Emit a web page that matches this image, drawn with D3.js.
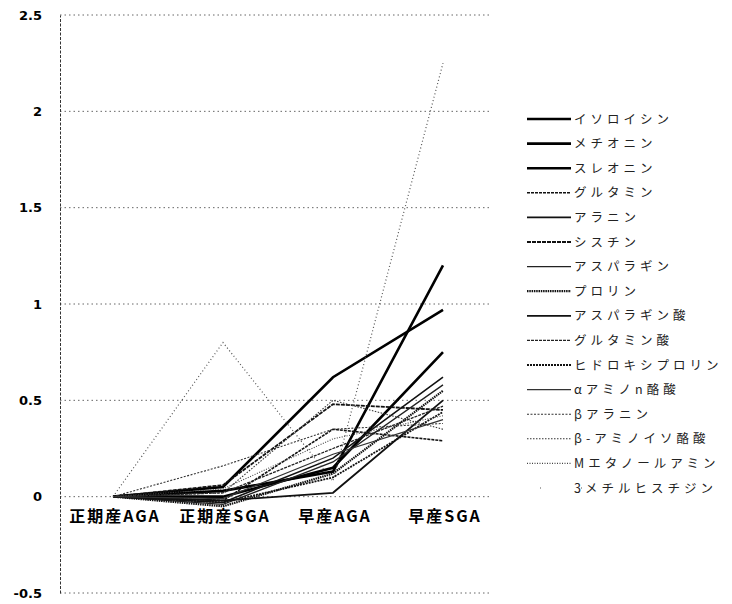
<!DOCTYPE html>
<html><head><meta charset="utf-8">
<script src="https://cdn.jsdelivr.net/npm/d3@7"></script>
<style>body{margin:0;background:#fff}</style>
</head><body>
<svg id="c" width="732" height="604"></svg>
<script>
const categories = ["正期産AGA","正期産SGA","早産AGA","早産SGA"];
const seriesNames = ["イソロイシン","メチオニン","スレオニン","グルタミン","アラニン","シスチン","アスパラギン","プロリン","アスパラギン酸","グルタミン酸","ヒドロキシプロリン","αアミノn酪酸","βアラニン","β-アミノイソ酪酸","Mエタノールアミン","3メチルヒスチジン"];
const isoleucine = [0, 0.05, 0.62, 0.97];
const methionine = [0, 0.03, 0.13, 1.2];
const threonine = [0, 0.0, 0.15, 0.75];
const glutamine = [0, -0.02, 0.35, 0.29];
const alanine = [0, -0.03, 0.2, 0.62];
const cystine = [0, 0.06, 0.48, 0.45];
const asparagine = [0, -0.04, 0.18, 0.58];
const proline = [0, -0.05, 0.12, 0.55];
const asparticAcid = [0, -0.02, 0.02, 0.5];
const glutamicAcid = [0, 0.02, 0.25, 0.47];
const hydroxyproline = [0, -0.03, 0.1, 0.44];
const aminoButyric = [0, -0.01, 0.22, 0.4];
const betaAlanine = [0, 0.16, 0.35, 0.38];
const betaAminoIsobutyric = [0, 0.02, 0.5, 0.35];
const mEthanolamine = [0, 0.04, 0.3, 0.42];
const methylHistidine = [0, 0.8, 0.08, 2.25];
const seriesValues = [isoleucine, methionine, threonine, glutamine, alanine, cystine, asparagine, proline, asparticAcid, glutamicAcid, hydroxyproline, aminoButyric, betaAlanine, betaAminoIsobutyric, mEthanolamine, methylHistidine];
const yTicks = [-0.5, 0, 0.5, 1, 1.5, 2, 2.5];

const styles = [
  {w:2.6,c:"#000",d:null},{w:2.6,c:"#000",d:null},{w:2.6,c:"#000",d:null},
  {w:1.6,c:"#111",d:"3,1"},{w:1.6,c:"#111",d:null},{w:1.8,c:"#111",d:"4,1"},
  {w:1.4,c:"#222",d:null},{w:2.2,c:"#111",d:"1.5,0.8"},{w:1.8,c:"#111",d:null},
  {w:1.3,c:"#222",d:"3,1"},{w:1.8,c:"#111",d:"2,1"},{w:1.2,c:"#333",d:null},
  {w:1.1,c:"#333",d:"2,1.5"},{w:1.1,c:"#333",d:"1.5,1.5"},{w:1.1,c:"#444",d:"1,1.5"},
  {w:1.2,c:"#555",d:"1,2.5"}
];

const svg = d3.select("#c");
const x = d3.scaleBand().domain(categories).range([58, 498]);
const y = d3.scaleLinear().domain([-0.5, 2.5]).range([593, 15]);

// gridlines
svg.append("g").selectAll("line").data(yTicks).join("line")
  .attr("x1", 60).attr("x2", 490)
  .attr("y1", d => y(d)).attr("y2", d => y(d))
  .attr("stroke", "#666").attr("stroke-width", 1).attr("stroke-dasharray", "1.5,3");

// y axis
const yAxis = d3.axisLeft(y).tickValues(yTicks).tickSize(0).tickPadding(18).tickFormat(d => d);
const ga = svg.append("g").attr("transform", "translate(60,0)").call(yAxis);
ga.select(".domain").attr("stroke", "#333").attr("stroke-dasharray", "3,1.5").attr("stroke-width", 1);
ga.selectAll("text").attr("font-family", "'DejaVu Sans', sans-serif").attr("font-weight", "bold")
  .attr("font-size", 13).attr("fill", "#000");

// category labels
svg.append("g").selectAll("text").data(categories).join("text")
  .attr("x", d => x(d) + x.bandwidth()/2 + 2).attr("y", 522)
  .attr("text-anchor", "middle")
  .attr("font-family", "'Noto Sans CJK JP', sans-serif").attr("font-weight", "bold")
  .attr("font-size", 16).attr("letter-spacing", 2).attr("fill", "#000")
  .text(d => d);

// lines
const line = d3.line().x((d, i) => x(categories[i]) + x.bandwidth()/2).y(d => y(d));
svg.append("g").selectAll("path").data(seriesValues).join("path")
  .attr("d", d => line(d)).attr("fill", "none")
  .attr("stroke", (d, i) => styles[i].c).attr("stroke-width", (d, i) => styles[i].w)
  .attr("stroke-dasharray", (d, i) => styles[i].d);

// legend
const leg = svg.append("g").selectAll("g").data(seriesNames).join("g")
  .attr("transform", (d, i) => `translate(527,${119 + i*24.6})`);
leg.append("line").attr("x1", 0).attr("x2", 44).attr("y1", 0).attr("y2", 0)
  .attr("stroke", (d, i) => styles[i].c).attr("stroke-width", (d, i) => styles[i].w)
  .attr("stroke-dasharray", (d, i) => i === 15 ? "1,40" : styles[i].d)
  .attr("transform", (d, i) => i === 15 ? "translate(13,0)" : null);
leg.append("text").attr("x", 47).attr("y", 4.5)
  .attr("font-family", "'Noto Sans CJK JP', sans-serif").attr("font-size", 12.5)
  .attr("letter-spacing", 4).attr("fill", "#222").text(d => d);
</script>
</body></html>
